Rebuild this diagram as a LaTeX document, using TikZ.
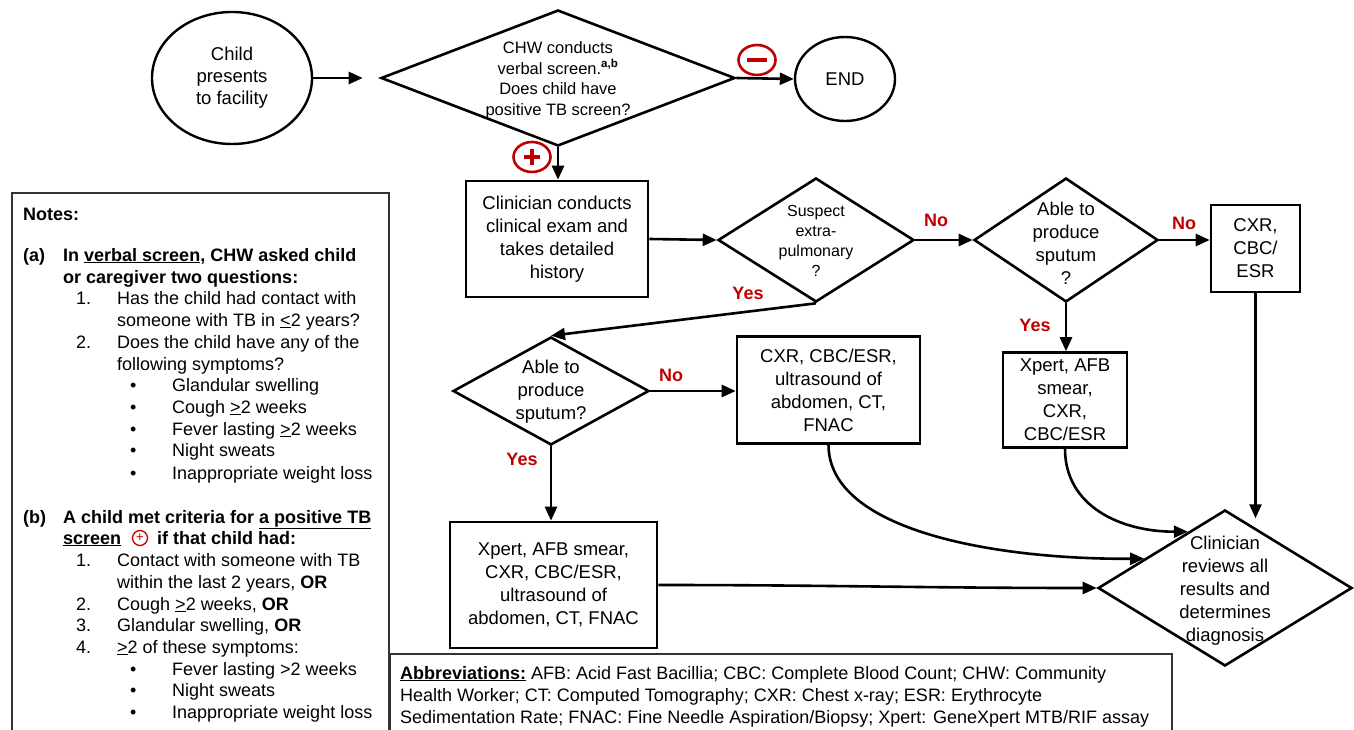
\documentclass[tikz,border=0pt]{standalone}
\usepackage{fontspec}
\setmainfont{Liberation Sans}
\usetikzlibrary{shapes.geometric,arrows.meta,calc}
\definecolor{tbred}{RGB}{192,0,0}
\begin{document}
\begin{tikzpicture}[x=1pt,y=-1pt,
  txt/.style={align=center, inner sep=0pt, font=\fontsize{18.5}{23}\selectfont},
  proc/.style={draw, rectangle, line width=2.6pt, inner sep=0pt, align=center, font=\fontsize{18.5}{23}\selectfont},
  dec/.style={draw, diamond, line width=2.6pt, inner sep=0pt},
  term/.style={draw, ellipse, line width=2.4pt, inner sep=0pt, align=center, font=\fontsize{18.5}{22}\selectfont},
  arr/.style={line width=2.6pt, -{Triangle[length=14pt,width=12pt]}},
  lbl/.style={text=tbred, inner sep=0pt, font=\fontsize{18}{20}\selectfont\bfseries},
  sign/.style={draw=tbred, ellipse, line width=2.6pt, minimum width=37pt, minimum height=30pt, inner sep=0pt},
  nt/.style={anchor=base west, inner sep=0pt, font=\fontsize{18}{22}\selectfont},
  ntb/.style={nt, font=\fontsize{18}{22}\selectfont\bfseries},
  frame/.style={draw=black!80, line width=1.3pt}
]
\useasboundingbox (0,0) rectangle (1354,730);

% ---------- flowchart nodes ----------
\node[term, minimum width=160pt, minimum height=132pt] (child) at (232,78) {Child\\presents\\to facility};
\node[dec, minimum width=354pt, minimum height=136pt] (d1) at (558,78) {};
\node[txt, font=\fontsize{16.5}{20.5}\selectfont] (d1t) at (558,80) {CHW conducts\\verbal screen.\textsuperscript{\textbf{a,b}}\\Does child have\\positive TB screen?};
\node[term, minimum width=100pt, minimum height=84pt] (end) at (845,79) {END};
\node[sign] (minus) at (757,60) {};
\node[sign] (plus) at (532,157) {};

\node[proc, minimum width=182pt, minimum height=116pt] (box1) at (557,239) {Clinician conducts\\clinical exam and\\takes detailed\\history};
\node[dec, minimum width=196pt, minimum height=124pt] (d2) at (816,240) {};
\node[txt, font=\fontsize{16}{20}\selectfont] (d2t) at (816,241) {Suspect\\extra-\\pulmonary\\?};
\node[dec, minimum width=184pt, minimum height=124pt] (d3) at (1066,240) {};
\node[txt] (d3t) at (1066,243) {Able to\\produce\\sputum\\?};
\node[proc, minimum width=89pt, minimum height=87pt] (cxr) at (1255.5,248.5) {CXR,\\CBC/\\ESR};
\node[proc, minimum width=124pt, minimum height=95pt] (xs) at (1065,400) {Xpert, AFB\\smear,\\CXR,\\CBC/ESR};

\node[dec, minimum width=196pt, minimum height=108pt] (d4) at (551,391) {};
\node[txt] (d4t) at (551,392) {Able to\\produce\\sputum?};
\node[proc, minimum width=183pt, minimum height=107pt] (box2) at (828.5,390) {CXR, CBC/ESR,\\ultrasound of\\abdomen, CT,\\FNAC};
\node[proc, minimum width=207pt, minimum height=126pt] (box3) at (553.5,585) {Xpert, AFB smear,\\CXR, CBC/ESR,\\ultrasound of\\abdomen, CT, FNAC};

\node[dec, minimum width=254pt, minimum height=156pt] (d5) at (1225,588) {};
\node[txt] (d5t) at (1225,591) {Clinician\\reviews all\\results and\\determines\\diagnosis};

% ---------- signs ----------
\draw[tbred, line width=4pt] ($(minus.center)+(-10,0)$) -- ($(minus.center)+(10,0)$);
\draw[tbred, line width=3.5pt] ($(plus.center)+(-8,0)$) -- ($(plus.center)+(8,0)$);
\draw[tbred, line width=3.5pt] ($(plus.center)+(0,-8)$) -- ($(plus.center)+(0,8)$);

% ---------- labels ----------
\node[lbl] (no1) at (936,220) {No};
\node[lbl] (no2) at (1184,223) {No};
\node[lbl] (no3) at (671,375) {No};
\node[lbl] (yes1) at (748,293) {Yes};
\node[lbl] (yes2) at (1035,325) {Yes};
\node[lbl] (yes3) at (522,459) {Yes};

% ---------- connectors ----------
\draw[arr, shorten >=17pt] (child.east) -- (d1.west);
\draw[arr] (d1.east) -- (end.west);
\draw[arr] (d1.south) -- (d1.south |- box1.north);
\draw[arr] (box1.east) -- (d2.west);
\draw[arr] (d2.east) -- (d3.west);
\draw[arr] (d3.east) -- (d3.east -| cxr.west);
\draw[arr] (d2.south) -- (d4.north);
\draw[arr] (d4.east) -- (d4.east -| box2.west);
\draw[arr] (d4.south) -- (d4.south |- box3.north);
\draw[arr] (d3.south) -- (d3.south |- xs.north);
\coordinate (c5a) at ($(cxr.south)+(0,225)$);
\draw[arr] (cxr.south) -- (c5a);
\draw[arr] (xs.south) .. controls +(0,57) and +(-68,0) .. ($(d5.west)!0.71!(d5.north)$);
\draw[arr] (box2.south) .. controls +(0,87) and +(-145,1) .. ($(d5.west)!0.37!(d5.north)$);
\draw[arr] (box3.east) to[out=0,in=180] (d5.west);

% ---------- notes box ----------
\draw[frame] (12,740) -- (12,193) -- (389,193) -- (389,740);
\node[ntb] (nh) at (23,221) {Notes:};
\node[ntb] (na) at (23,261) {(a)};
\node[ntb] (na1) at (63,261) {In \underline{verbal screen}, CHW asked child};
\node[ntb] (na2) at (63,283) {or caregiver two questions:};
\node[nt] (na3n) at (76,304) {1.};
\node[nt] (na3) at (117,304) {Has the child had contact with};
\node[nt] (na4) at (117,326) {someone with TB in \underline{<}2 years?};
\node[nt] (na5n) at (76,348) {2.};
\node[nt] (na5) at (117,348) {Does the child have any of the};
\node[nt] (na6) at (117,370) {following symptoms?};
\node[nt] (nb1b) at (130,391) {•};
\node[nt] (nb1) at (172,391) {Glandular swelling};
\node[nt] (nb2b) at (130,413) {•};
\node[nt] (nb2) at (172,413) {Cough \underline{>}2 weeks};
\node[nt] (nb3b) at (130,435) {•};
\node[nt] (nb3) at (172,435) {Fever lasting \underline{>}2 weeks};
\node[nt] (nb4b) at (130,456) {•};
\node[nt] (nb4) at (172,456) {Night sweats};
\node[nt] (nb5b) at (130,479) {•};
\node[nt] (nb5) at (172,479) {Inappropriate weight loss};

\node[ntb] (nbh) at (23,523) {(b)};
\node[ntb] (nbh1) at (63,523) {A child met criteria for \underline{a positive TB}};
\node[ntb] (nbh2) at (63,544) {\underline{screen}};
\node[draw=tbred, circle, line width=1.3pt, minimum size=15pt, inner sep=0pt, text=tbred, font=\fontsize{13}{13}\selectfont] (nplus) at (140,538) {+};
\node[ntb] (nbh3) at (157,544) {if that child had:};
\node[nt] (nc1n) at (76,566) {1.};
\node[nt] (nc1) at (117,566) {Contact with someone with TB};
\node[nt] (nc2) at (117,588) {within the last 2 years, \textbf{OR}};
\node[nt] (nc3n) at (76,610) {2.};
\node[nt] (nc3) at (117,610) {Cough \underline{>}2 weeks, \textbf{OR}};
\node[nt] (nc4n) at (76,631) {3.};
\node[nt] (nc4) at (117,631) {Glandular swelling, \textbf{OR}};
\node[nt] (nc5n) at (76,653) {4.};
\node[nt] (nc5) at (117,653) {\underline{>}2 of these symptoms:};
\node[nt] (nd1b) at (130,675) {•};
\node[nt] (nd1) at (172,675) {Fever lasting >2 weeks};
\node[nt] (nd2b) at (130,696) {•};
\node[nt] (nd2) at (172,696) {Night sweats};
\node[nt] (nd3b) at (130,718) {•};
\node[nt] (nd3) at (172,718) {Inappropriate weight loss};

% ---------- abbreviations box ----------
\draw[frame] (390,740) -- (390,654) -- (1172,654) -- (1172,740);
\node[nt] (ab1) at (400,679) {\underline{\textbf{Abbreviations:}} AFB: Acid Fast Bacillia; CBC: Complete Blood Count; CHW: Community};
\node[nt] (ab2) at (400,701) {Health Worker; CT: Computed Tomography; CXR: Chest x-ray; ESR: Erythrocyte};
\node[nt] (ab3) at (400,723) {Sedimentation Rate; FNAC: Fine Needle Aspiration/Biopsy; Xpert: GeneXpert MTB/RIF assay};
\end{tikzpicture}
\end{document}
